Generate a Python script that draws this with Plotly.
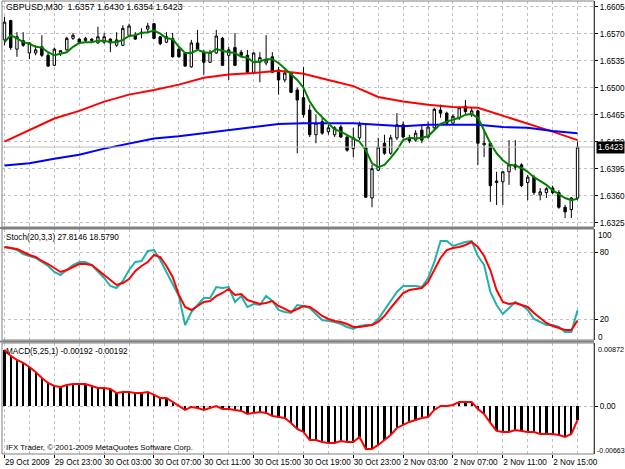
import plotly.graph_objects as go

# ---------------- data ----------------
bars = list(range(93))
opens = [1.6562,1.6587,1.6550,1.6561,1.6545,1.6545,1.6553,1.6542,1.6529,1.6544,
         1.6549,1.6564,1.6563,1.6561,1.6561,1.6558,1.6559,1.6563,1.6555,1.6555,
         1.6568,1.6568,1.6572,1.6576,1.6583,1.6566,1.6559,1.6564,1.6550,1.6545,
         1.6527,1.6558,1.6546,1.6533,1.6545,1.6564,1.6542,1.6552,1.6546,1.6542,
         1.6520,1.6533,1.6532,1.6540,1.6523,1.6510,1.6519,1.6497,1.6487,1.6471,
         1.6439,1.6456,1.6443,1.6439,1.6449,1.6436,1.6421,1.6435,1.6422,1.6357,
         1.6393,1.6428,1.6415,1.6435,1.6452,1.6435,1.6432,1.6445,1.6436,1.6448,
         1.6471,1.6467,1.6454,1.6461,1.6476,1.6465,1.6470,1.6426,1.6428,1.6377,
         1.6378,1.6391,1.6400,1.6400,1.6377,1.6384,1.6361,1.6364,1.6370,1.6364,
         1.6345,1.6342,1.6357]
highs = [1.6592,1.6588,1.6572,1.6572,1.6559,1.6555,1.6568,1.6545,1.6552,1.6549,
         1.6566,1.6571,1.6564,1.6566,1.6564,1.6579,1.6571,1.6564,1.6572,1.6581,
         1.6583,1.6572,1.6577,1.6584,1.6584,1.6567,1.6572,1.6571,1.6552,1.6546,
         1.6562,1.6575,1.6549,1.6549,1.6575,1.6566,1.6553,1.6571,1.6549,1.6549,
         1.6546,1.6546,1.6568,1.6546,1.6527,1.6523,1.6520,1.6500,1.6527,1.6478,
         1.6465,1.6461,1.6452,1.6450,1.6452,1.6439,1.6448,1.6456,1.6452,1.6400,
         1.6435,1.6439,1.6439,1.6467,1.6456,1.6439,1.6445,1.6452,1.6456,1.6474,
         1.6478,1.6469,1.6465,1.6475,1.6484,1.6474,1.6471,1.6445,1.6430,1.6391,
         1.6391,1.6432,1.6432,1.6402,1.6387,1.6387,1.6370,1.6371,1.6373,1.6367,
         1.6348,1.6358,1.6430]
lows = [1.6555,1.6549,1.6540,1.6553,1.6537,1.6542,1.6540,1.6527,1.6528,1.6541,
        1.6548,1.6562,1.6558,1.6558,1.6558,1.6557,1.6557,1.6546,1.6553,1.6554,
        1.6567,1.6562,1.6564,1.6572,1.6563,1.6555,1.6558,1.6539,1.6539,1.6527,
        1.6526,1.6549,1.6517,1.6532,1.6544,1.6528,1.6510,1.6528,1.6540,1.6519,
        1.6519,1.6507,1.6529,1.6519,1.6491,1.6507,1.6493,1.6415,1.6461,1.6436,
        1.6428,1.6439,1.6439,1.6436,1.6435,1.6417,1.6410,1.6432,1.6357,1.6345,
        1.6392,1.6413,1.6413,1.6432,1.6434,1.6428,1.6430,1.6428,1.6434,1.6445,
        1.6461,1.6452,1.6452,1.6458,1.6466,1.6462,1.6400,1.6410,1.6352,1.6348,
        1.6348,1.6374,1.6393,1.6371,1.6354,1.6361,1.6354,1.6357,1.6362,1.6343,
        1.6331,1.6331,1.6354]
closes = [1.6585,1.6552,1.6566,1.6555,1.6558,1.6549,1.6542,1.6528,1.6550,1.6548,
          1.6564,1.6568,1.6559,1.6564,1.6563,1.6566,1.6566,1.6558,1.6562,1.6577,
          1.6580,1.6563,1.6571,1.6580,1.6564,1.6557,1.6566,1.6540,1.6540,1.6528,
          1.6558,1.6550,1.6533,1.6546,1.6567,1.6529,1.6549,1.6529,1.6542,1.6520,
          1.6545,1.6539,1.6536,1.6520,1.6510,1.6519,1.6494,1.6484,1.6465,1.6439,
          1.6454,1.6441,1.6448,1.6448,1.6436,1.6419,1.6435,1.6452,1.6358,1.6395,
          1.6423,1.6415,1.6435,1.6452,1.6436,1.6431,1.6441,1.6432,1.6449,1.6472,
          1.6467,1.6454,1.6463,1.6474,1.6469,1.6470,1.6428,1.6428,1.6373,1.6379,
          1.6391,1.6400,1.6397,1.6373,1.6384,1.6364,1.6365,1.6369,1.6364,1.6345,
          1.6339,1.6357,1.6423]
ma_fast = [1.6559,1.6568,1.6564,1.6559,1.6557,1.6553,1.6552,1.6546,1.6542,1.6544,
           1.6546,1.6553,1.6558,1.6559,1.6559,1.6561,1.6561,1.6559,1.6559,1.6562,
           1.6567,1.6568,1.6571,1.6572,1.6574,1.6570,1.6564,1.6563,1.6553,1.6545,
           1.6545,1.6549,1.6546,1.6545,1.6550,1.6548,1.6546,1.6545,1.6540,1.6539,
           1.6533,1.6534,1.6537,1.6537,1.6532,1.6525,1.6518,1.6510,1.6500,1.6482,
           1.6470,1.6462,1.6453,1.6446,1.6443,1.6439,1.6434,1.6430,1.6419,1.6402,
           1.6397,1.6400,1.6409,1.6419,1.6432,1.6435,1.6434,1.6435,1.6437,1.6445,
           1.6453,1.6456,1.6458,1.6461,1.6465,1.6466,1.6461,1.6445,1.6428,1.6415,
           1.6406,1.6400,1.6399,1.6396,1.6391,1.6384,1.6379,1.6374,1.6367,1.6362,
           1.6357,1.6354,1.6356]
ma_mid_bars = [0,4,8,12,16,20,24,28,32,36,40,44,46,48,52,56,60,64,68,72,76,78,80,84,88,92]
ma_mid = [1.6430,1.6445,1.6460,1.6470,1.6482,1.6491,1.6497,1.6504,1.6513,1.6517,
          1.6519,1.6522,1.6520,1.6518,1.6510,1.6502,1.6488,1.6482,1.6478,1.6475,
          1.6474,1.6469,1.6463,1.6454,1.6443,1.6432]
ma_slow_bars = [0,4,8,12,16,20,24,28,32,36,40,44,48,52,56,60,64,68,72,76,80,84,88,92]
ma_slow = [1.6399,1.6402,1.6408,1.6413,1.6421,1.6427,1.6434,1.6437,1.6441,1.6445,
           1.6449,1.6453,1.6454,1.6454,1.6454,1.6452,1.6450,1.6452,1.6452,1.6452,
           1.6449,1.6448,1.6444,1.6441]
stoch_main = [84.8,83.9,82.1,78.5,76.7,74.9,71.3,67.7,62.3,59.6,
              64.1,68.6,71.3,71.3,68.6,63.2,56.9,49.7,47.9,54.2,
              64.1,71.3,72.2,81.2,82.1,73.1,62.3,50.6,40.7,14.6,
              26.3,32.6,38.9,38.9,48.8,47.9,48.8,35.3,40.7,30.8,
              33.5,32.6,40.7,36.2,28.1,26.3,25.4,32.6,31.7,29.9,
              24.5,19.1,18.2,17.3,15.5,12.8,11.0,13.7,14.6,14.6,
              20.0,28.1,37.1,44.3,49.7,49.7,49.7,48.8,56.9,71.3,
              90.2,90.2,85.7,87.5,89.3,90.2,76.7,68.6,44.3,32.6,
              24.5,29.9,35.3,32.6,28.1,20.0,17.3,14.6,14.6,12.8,
              8.3,8.3,27.8146]
stoch_signal = [84.8,83.9,83.0,80.3,77.6,75.8,72.2,69.5,65.9,62.3,
                64.1,66.8,69.5,69.5,68.6,64.1,59.6,55.1,50.6,52.4,
                56.0,63.2,67.7,71.3,77.6,75.8,67.7,57.8,41.6,30.8,
                28.1,31.7,35.3,36.2,40.7,43.4,47.0,41.6,42.5,37.1,
                35.3,33.5,34.4,36.2,31.7,29.0,26.3,29.0,31.7,30.8,
                27.2,22.7,20.0,18.2,17.3,15.5,12.8,12.8,13.7,14.6,
                17.3,22.7,29.9,37.1,43.4,46.1,47.0,47.9,53.3,64.1,
                74.9,82.1,83.9,84.8,86.6,89.3,84.8,76.7,64.1,46.1,
                35.3,33.5,34.4,32.6,30.8,25.4,20.9,16.4,13.7,11.9,
                10.1,10.1,18.579]
macd = [0.00776,0.00693,0.00638,0.00596,0.00541,0.00472,0.00389,0.00319,0.00278,0.00264,
        0.00292,0.00306,0.00306,0.00306,0.00278,0.00250,0.00250,0.00236,0.00181,0.00195,
        0.00195,0.00181,0.00181,0.00195,0.00154,0.00112,0.00112,0.00057,0.00001,-0.00054,
        -0.00012,-0.00026,-0.00054,-0.00026,0.00001,-0.00040,-0.00040,-0.00054,-0.00068,-0.00109,
        -0.00095,-0.00082,-0.00095,-0.00137,-0.00151,-0.00165,-0.00234,-0.00317,-0.00358,-0.00469,
        -0.00469,-0.00496,-0.00510,-0.00510,-0.00483,-0.00496,-0.00496,-0.00427,-0.00593,-0.00593,
        -0.00538,-0.00469,-0.00400,-0.00303,-0.00261,-0.00220,-0.00192,-0.00165,-0.00151,-0.00054,
        0.00001,0.00001,0.00015,0.00057,0.00057,0.00057,-0.00040,-0.00109,-0.00234,-0.00344,
        -0.00358,-0.00358,-0.00331,-0.00344,-0.00358,-0.00358,-0.00386,-0.00386,-0.00386,-0.00400,
        -0.00427,-0.00386,-0.00192]
macd_signal = macd  # signal period 1 -> identical to MACD

time_tick_bars = [0,8,16,24,32,40,48,56,64,72,80,88]
time_tick_labels = ["29 Oct 2009","29 Oct 23:00","30 Oct 03:00","30 Oct 07:00","30 Oct 11:00",
                    "30 Oct 15:00","30 Oct 19:00","30 Oct 23:00","2 Nov 03:00","2 Nov 07:00",
                    "2 Nov 11:00","2 Nov 15:00"]
price_ticks = [1.6325,1.6360,1.6395,1.6430,1.6465,1.6500,1.6535,1.6570,1.6605]
price_tick_labels = ["1.6325","1.6360","1.6395","1.6430","1.6465","1.6500","1.6535","1.6570","1.6605"]
last_price = 1.6423
header = "GBPUSD,M30  1.6357 1.6430 1.6354 1.6423"
stoch_title = "Stoch(20,3,3) 27.8146 18.5790"
macd_title = "MACD(5,25,1) -0.00192 -0.00192"
copyright_text = "IFX Trader, © 2001-2009 MetaQuotes Software Corp."
macd_max, macd_min = 0.00872, -0.00663

# ---------------- layout helpers ----------------
W, H = 625, 469
L, R, T, B = 2, 31, 1, 15
PW, PH = W - L - R, H - T - B
def px_x(px):
    return (px - L) / PW
def px_y(py):
    return (H - B - py) / PH

FONT = "Liberation Sans"
FS = 8.2
GRID = "#c0c0c0"
XR = [-0.4, 94.64]

fig = go.Figure()

fig.add_trace(go.Candlestick(
    x=bars, open=opens, high=highs, low=lows, close=closes,
    increasing=dict(line=dict(color="black", width=1), fillcolor="white"),
    decreasing=dict(line=dict(color="black", width=1), fillcolor="black"),
    whiskerwidth=0, xaxis="x", yaxis="y", hoverinfo="skip"))
fig.add_trace(go.Scatter(x=ma_mid_bars, y=ma_mid, mode="lines",
                         line=dict(color="#ff0000", width=2), xaxis="x", yaxis="y"))
fig.add_trace(go.Scatter(x=ma_slow_bars, y=ma_slow, mode="lines",
                         line=dict(color="#0000ff", width=2), xaxis="x", yaxis="y"))
fig.add_trace(go.Scatter(x=bars, y=ma_fast, mode="lines",
                         line=dict(color="#008000", width=2), xaxis="x", yaxis="y"))

fig.add_trace(go.Scatter(x=bars, y=stoch_main, mode="lines",
                         line=dict(color="#20b2aa", width=2), xaxis="x2", yaxis="y2"))
fig.add_trace(go.Scatter(x=bars, y=stoch_signal, mode="lines",
                         line=dict(color="#ff0000", width=2), xaxis="x2", yaxis="y2"))

fig.add_trace(go.Bar(x=bars, y=macd, width=0.36, marker=dict(color="black", line=dict(width=0)),
                     xaxis="x3", yaxis="y3"))
fig.add_trace(go.Scatter(x=bars, y=macd_signal, mode="lines",
                         line=dict(color="#ff0000", width=2), xaxis="x3", yaxis="y3"))

dom_main = [px_y(227), 1.0]
dom_stoch = [px_y(340), px_y(229)]
dom_macd = [0.0, px_y(343)]

xcommon = dict(range=XR, showgrid=True, gridcolor=GRID, griddash="3px,3px", gridwidth=1,
               zeroline=False, showline=False, tickmode="array", tickvals=time_tick_bars,
               tickangle=0,
               minor=dict(dtick=4, tick0=0, showgrid=True, gridcolor=GRID,
                          griddash="3px,3px", gridwidth=1, ticks=""))
ycommon = dict(side="right", showgrid=True, gridcolor=GRID, griddash="3px,3px", gridwidth=1,
               zeroline=False, showline=True, linecolor="black", linewidth=1,
               ticks="outside", ticklen=3, tickcolor="black",
               tickfont=dict(family=FONT, size=FS, color="black"), fixedrange=True)

fig.update_layout(
    width=W, height=H, margin=dict(l=L, r=R, t=T, b=B, pad=0),
    paper_bgcolor="white", plot_bgcolor="white", showlegend=False,
    boxgap=0.45, bargap=0,
    font=dict(family=FONT, size=FS, color="black"),
    xaxis=dict(xcommon, anchor="y", domain=[0, 1], showticklabels=False,
               rangeslider=dict(visible=False)),
    xaxis2=dict(xcommon, anchor="y2", domain=[0, 1], showticklabels=False, matches="x"),
    xaxis3=dict(xcommon, anchor="y3", domain=[0, 1], ticktext=time_tick_labels,
                showticklabels=True, ticks="outside", ticklen=3, tickcolor="black",
                ticklabelposition="outside right",
                tickfont=dict(family=FONT, size=FS, color="black"), matches="x"),
    yaxis=dict(ycommon, domain=dom_main, range=[1.63194, 1.66124],
               tickmode="array", tickvals=price_ticks, ticktext=price_tick_labels),
    yaxis2=dict(ycommon, domain=dom_stoch, range=[1.1, 101],
                tickmode="array", tickvals=[20, 80], ticktext=["20", "80"]),
    yaxis3=dict(ycommon, domain=dom_macd, range=[macd_min, macd_max],
                tickmode="array", tickvals=[0], ticktext=["0.00"]),
)

shapes = []
# bid line
shapes.append(dict(type="line", xref="x domain", yref="y", x0=0, x1=1,
                   y0=last_price, y1=last_price, line=dict(color="#c0c0c0", width=1)))
# panel frames
for d in (dom_main, dom_stoch, dom_macd):
    shapes.append(dict(type="rect", xref="paper", yref="paper", x0=0, x1=1, y0=d[0], y1=d[1],
                       line=dict(color="#808080", width=1), fillcolor="rgba(0,0,0,0)"))
# splitters
for py in (228, 341.5):
    shapes.append(dict(type="line", xref="paper", yref="paper", x0=px_x(0), x1=1,
                       y0=px_y(py), y1=px_y(py), line=dict(color="#808080", width=2)))
fig.update_layout(shapes=shapes)

ann = []
def text(s, px, py, size=FS, **kw):
    d = dict(text=s, x=px_x(px), y=px_y(py), xref="paper", yref="paper",
             xanchor="left", yanchor="middle", showarrow=False,
             font=dict(family=FONT, size=size, color="black"))
    d.update(kw)
    ann.append(d)

text(header, 4, 7, size=8.8)
text(stoch_title, 4, 237)
text(macd_title, 4, 351)
text(copyright_text, 4, 447, size=7.9)
text("100", 596, 235)
text("0", 596, 337)
text("0.00872", 596, 349, size=7.2)
text("-0.00663", 595, 450, size=7.0)
ann.append(dict(text=f"{last_price:.4f}", x=px_x(596), y=last_price, xref="paper", yref="y",
                xanchor="left", yanchor="middle", showarrow=False, bgcolor="black",
                borderpad=1, font=dict(family=FONT, size=FS, color="white")))
fig.update_layout(annotations=ann)

fig.write_html("out.html", config=dict(displayModeBar=False, staticPlot=True))
